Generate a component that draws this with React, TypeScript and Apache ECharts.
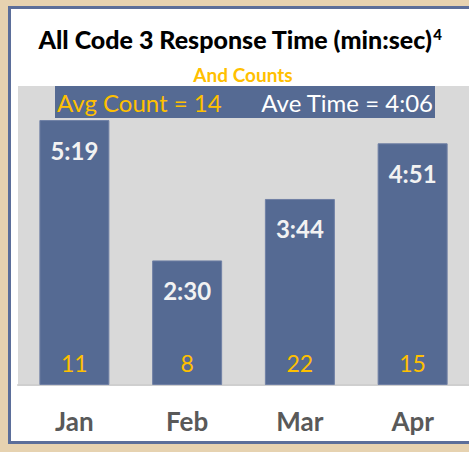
import React, { useEffect, useRef } from "react";
import * as echarts from "echarts";

const months = ["Jan", "Feb", "Mar", "Apr"];
const timesSec = [319, 150, 224, 291]; // 5:19, 2:30, 3:44, 4:51
const counts = [11, 8, 22, 15];
const yMax = 360;

const fmt = (s: number) => {
  const m = Math.floor(s / 60);
  const r = Math.round(s - m * 60);
  return `${m}:${r < 10 ? "0" : ""}${r}`;
};

const FONT = "Lato, 'Open Sans', sans-serif";

export default function App() {
  const ref = useRef<HTMLDivElement>(null);
  useEffect(() => {
    if (!ref.current) return;
    const chart = echarts.init(ref.current, undefined, { renderer: "svg" });
    const avgCount = Math.round(counts.reduce((a, b) => a + b, 0) / counts.length);
    const avgTime = timesSec.reduce((a, b) => a + b, 0) / timesSec.length;
    chart.setOption({
      animation: false,
      backgroundColor: "#E6D2B0",
      textStyle: { fontFamily: FONT },
      grid: {
        left: 18,
        right: 0,
        top: 86,
        bottom: 67,
        show: true,
        backgroundColor: "#D9D9D9",
        borderWidth: 0,
      },
      xAxis: {
        type: "category",
        data: months,
        axisTick: { show: false },
        axisLine: { show: true, lineStyle: { color: "#CFCFCF", width: 2 } },
        axisLabel: {
          color: "#595959",
          fontWeight: "bold",
          fontSize: 26,
          fontFamily: FONT,
          margin: 23,
        },
      },
      yAxis: {
        type: "value",
        min: 0,
        max: yMax,
        show: false,
        splitLine: { show: false },
      },
      series: [
        {
          name: "Time",
          type: "bar",
          data: timesSec,
          barWidth: 70,
          itemStyle: { color: "#556A93", borderColor: "#7080A5", borderWidth: 1 },
          label: {
            show: true,
            position: "insideTop",
            distance: 18,
            color: "#F2F2F2",
            fontWeight: "bold",
            fontSize: 24,
            fontFamily: FONT,
            formatter: (p: any) => fmt(p.value),
          },
          z: 3,
        },
        {
          name: "Counts",
          type: "bar",
          data: timesSec,
          barWidth: 70,
          barGap: "-100%",
          itemStyle: { color: "rgba(0,0,0,0)" },
          label: {
            show: true,
            position: "insideBottom",
            distance: 11,
            color: "#FFC000",
            fontSize: 23,
            fontFamily: FONT,
            formatter: (p: any) => String(counts[p.dataIndex]),
          },
          z: 4,
        },
      ],
      graphic: [
        {
          type: "rect",
          z: -10,
          shape: { x: 9.5, y: 7.5, width: 480, height: 435 },
          style: { fill: "#FFFFFF", stroke: "#5B6E9A", lineWidth: 3 },
        },
        {
          type: "text",
          z: 10,
          x: 240,
          y: 39,
          style: {
            text: "{a|All Code 3 Response Time (min:sec)}{s|4}",
            textAlign: "center",
            textVerticalAlign: "middle",
            rich: {
              a: { fontSize: 25, fontWeight: 900, fill: "#000000", fontFamily: FONT },
              s: {
                fontSize: 15,
                fontWeight: 900,
                fill: "#000000",
                fontFamily: FONT,
                padding: [0, 0, 11, 1],
              },
            },
          },
        },
        {
          type: "text",
          z: 10,
          x: 243,
          y: 74,
          style: {
            text: "And Counts",
            textAlign: "center",
            textVerticalAlign: "middle",
            fontSize: 19,
            fontWeight: "bold",
            fill: "#FFC000",
            fontFamily: FONT,
          },
        },
        {
          type: "rect",
          z: 10,
          shape: { x: 55, y: 86, width: 380, height: 32 },
          style: { fill: "#556A93" },
        },
        {
          type: "text",
          z: 11,
          x: 57,
          y: 102,
          style: {
            text: `Avg Count = ${avgCount}`,
            textAlign: "left",
            textVerticalAlign: "middle",
            fontSize: 24,
            fill: "#FFC000",
            fontFamily: FONT,
          },
        },
        {
          type: "text",
          z: 11,
          x: 433,
          y: 102,
          style: {
            text: `Ave Time = ${fmt(avgTime)}`,
            textAlign: "right",
            textVerticalAlign: "middle",
            fontSize: 24,
            fill: "#FFFFFF",
            fontFamily: FONT,
          },
        },
      ],
    });
    return () => chart.dispose();
  }, []);
  return (
    <div
      ref={ref}
      style={{ position: "fixed", left: 0, top: 0, width: 469, height: 452 }}
    />
  );
}
